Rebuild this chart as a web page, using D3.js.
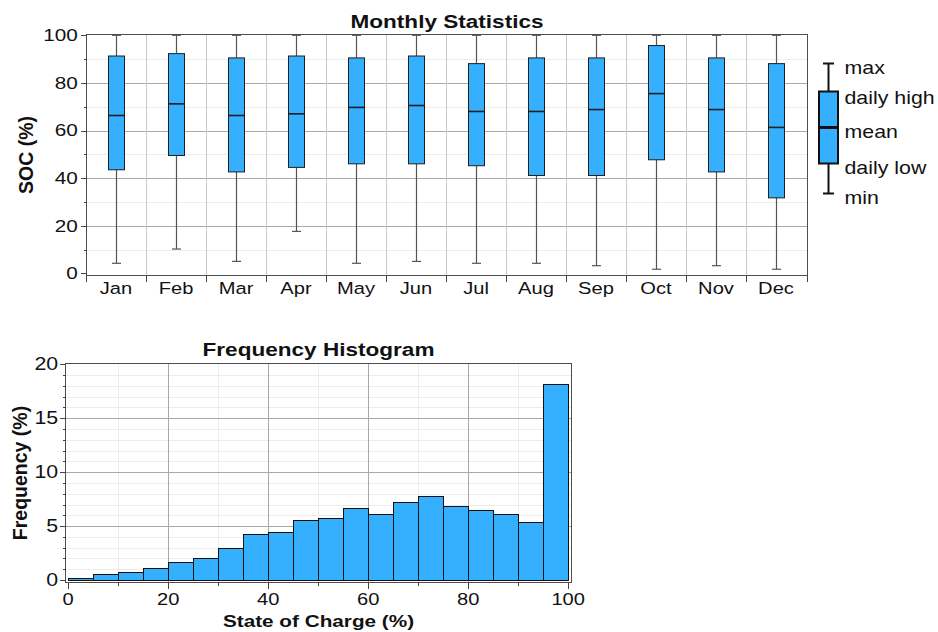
<!DOCTYPE html>
<!-- Monthly SOC box chart and SOC frequency histogram -->
<meta charset="utf-8">
<style>
 body { margin: 0; background: #fff; }
 text { font-family: "Liberation Sans", Arial, sans-serif; fill: #111; }
 .grid-major { stroke: #a8a8a8; stroke-width: 1; shape-rendering: crispEdges; }
 .grid-minor { stroke: #ececec; stroke-width: 1; shape-rendering: crispEdges; }
 .grid-band { stroke: #c9c9c9; stroke-width: 1; shape-rendering: crispEdges; }
 .frame { fill: none; stroke: #4d4d4d; stroke-width: 1; shape-rendering: crispEdges; }
 .tick line, .btick { stroke: #444; shape-rendering: crispEdges; }
 .box rect { fill: #35b0ff; stroke: #1e1e1e; stroke-width: 1; }
 .box .med { stroke: #1e1e1e; stroke-width: 1.6; }
 .box .whisk { stroke: #555; stroke-width: 1.2; }
 .bar { fill: #35b0ff; stroke: #111; stroke-width: 1; }
</style>

<svg width="938" height="632"></svg>

<script src="https://cdn.jsdelivr.net/npm/d3@7"></script>
<script>

 var months   = ["Jan", "Feb", "Mar", "Apr", "May", "Jun", "Jul", "Aug", "Sep", "Oct", "Nov", "Dec"];
 var socMax   = [100, 100, 100, 100, 100, 100, 100, 100, 100, 100, 100, 100];
 var socHigh  = [91.3, 92.3, 90.5, 91.3, 90.5, 91.3, 88.1, 90.5, 90.5, 95.7, 90.5, 88.1];
 var socMean  = [66.3, 71.2, 66.3, 67.0, 69.7, 70.5, 68.0, 68.0, 68.8, 75.5, 68.8, 61.3];
 var socLow   = [43.5, 49.5, 42.6, 44.5, 46.0, 46.0, 45.2, 41.1, 41.1, 47.7, 42.6, 31.7];
 var socMin   = [4.2, 10.2, 5.0, 17.6, 4.2, 5.0, 4.2, 4.2, 3.2, 1.7, 3.2, 1.7];

 var binStart = [0, 5, 10, 15, 20, 25, 30, 35, 40, 45, 50, 55, 60, 65, 70, 75, 80, 85, 90, 95];
 var binWidth = 5;
 var freqPct  = [0.2, 0.53, 0.71, 1.08, 1.64, 2.01, 2.94, 4.24, 4.42, 5.54, 5.72, 6.65, 6.09, 7.2, 7.76, 6.83, 6.46, 6.09, 5.35, 18.15];

 var socTicks      = [0, 20, 40, 60, 80, 100];
 var socMinorTicks = [10, 30, 50, 70, 90];
 var freqTicks     = [0, 5, 10, 15, 20];
 var freqMinor     = [1, 2, 3, 4, 6, 7, 8, 9, 11, 12, 13, 14, 16, 17, 18, 19];
 var chargeTicks   = [0, 20, 40, 60, 80, 100];
 var chargeMinor   = [10, 30, 50, 70, 90];

 var legendKeys = ["max", "daily high", "mean", "daily low", "min"];

 // text in the original is drawn wider than normal
 var SX = 1.22;

 var svg = d3.select("svg");

 function px(v) { return Math.round(v) + 0.5; }

 function label(g, x, y, s, size, anchor, bold) {
     return g.append("text")
             .attr("transform", "translate(" + x + "," + y + ") scale(" + SX + ",1)")
             .attr("text-anchor", anchor || "middle")
             .attr("font-size", size)
             .attr("font-weight", bold ? "bold" : null)
             .text(s);
 }

 function stretchTicks(g, size) {
     g.attr("font-size", size).attr("font-family", null);
     g.selectAll("text").attr("transform", "scale(" + SX + ",1)");
     g.select(".domain").remove();
 }

 // ---------- Monthly Statistics ----------
 var x = d3.scaleBand().domain(months).range([86, 806]);
 var y = d3.scaleLinear().domain([0, 100]).range([273.3, 35.3]);
 var boxChart = svg.append("g");

 var fx0 = 86.5, fx1 = 807.5, fy0 = px(y(100.7)), fy1 = px(y(-0.85));

 boxChart.selectAll(".hminor").data(socMinorTicks).enter().append("line")
    .attr("class", "grid-minor")
    .attr("x1", fx0).attr("x2", fx1)
    .attr("y1", function(d) { return px(y(d)); }).attr("y2", function(d) { return px(y(d)); });

 boxChart.selectAll(".hmajor").data(socTicks.slice(1, -1)).enter().append("line")
    .attr("class", "grid-major")
    .attr("x1", fx0).attr("x2", fx1)
    .attr("y1", function(d) { return px(y(d)); }).attr("y2", function(d) { return px(y(d)); });

 boxChart.selectAll(".vband").data(months.slice(1)).enter().append("line")
    .attr("class", "grid-band")
    .attr("x1", function(d) { return px(x(d)); }).attr("x2", function(d) { return px(x(d)); })
    .attr("y1", fy0).attr("y2", fy1);

 var rows = months.map(function(m, i) {
     return { m: m, max: socMax[i], high: socHigh[i], mean: socMean[i], low: socLow[i], min: socMin[i] };
 });

 var bw = 16, cw = 9;
 var box = boxChart.selectAll(".box").data(rows).enter().append("g")
              .attr("class", "box")
              .attr("transform", function(d) { return "translate(" + px(x(d.m) + x.bandwidth() / 2) + ",0)"; });

 box.append("line").attr("class", "whisk").attr("x1", 0).attr("x2", 0)
    .attr("y1", function(d) { return y(d.max); }).attr("y2", function(d) { return y(d.high); });
 box.append("line").attr("class", "whisk").attr("x1", 0).attr("x2", 0)
    .attr("y1", function(d) { return y(d.low); }).attr("y2", function(d) { return y(d.min); });
 box.append("line").attr("class", "whisk").attr("x1", -cw / 2).attr("x2", cw / 2)
    .attr("y1", function(d) { return y(d.max); }).attr("y2", function(d) { return y(d.max); });
 box.append("line").attr("class", "whisk").attr("x1", -cw / 2).attr("x2", cw / 2)
    .attr("y1", function(d) { return y(d.min); }).attr("y2", function(d) { return y(d.min); });
 box.append("rect").attr("x", -bw / 2).attr("width", bw)
    .attr("y", function(d) { return y(d.high); })
    .attr("height", function(d) { return y(d.low) - y(d.high); });
 box.append("line").attr("class", "med").attr("x1", -bw / 2).attr("x2", bw / 2)
    .attr("y1", function(d) { return y(d.mean); }).attr("y2", function(d) { return y(d.mean); });

 boxChart.append("rect").attr("class", "frame")
    .attr("x", fx0).attr("y", fy0).attr("width", fx1 - fx0).attr("height", fy1 - fy0);

 boxChart.append("g").attr("transform", "translate(" + fx0 + ",0)")
    .call(d3.axisLeft(y).tickValues(socTicks).tickSize(6).tickPadding(1.2))
    .call(function(g) { stretchTicks(g, 17); });
 boxChart.append("g").attr("transform", "translate(" + fx0 + ",0)")
    .call(d3.axisLeft(y).tickValues(socMinorTicks).tickSize(3).tickFormat(""))
    .call(function(g) { g.select(".domain").remove(); });

 boxChart.append("g").attr("transform", "translate(0," + fy1 + ")")
    .call(d3.axisBottom(x).tickSize(0).tickPadding(6.5))
    .call(function(g) { stretchTicks(g, 16.5); });
 boxChart.selectAll(".btick").data(months.concat(["end"])).enter().append("line")
    .attr("class", "btick")
    .attr("x1", function(d) { return d == "end" ? fx1 : px(x(d)); })
    .attr("x2", function(d) { return d == "end" ? fx1 : px(x(d)); })
    .attr("y1", fy1).attr("y2", fy1 + 6);

 label(boxChart, (fx0 + fx1) / 2, 27.5, "Monthly Statistics", 18.5, "middle", true);
 boxChart.append("text").attr("transform", "translate(33," + (fy0 + fy1) / 2 + ") rotate(-90)")
    .attr("text-anchor", "middle").attr("font-size", 19.5).attr("font-weight", "bold")
    .text("SOC (%)");

 // legend
 var lg = svg.append("g").attr("transform", "translate(828.5,0)");
 var ly = { max: 63.5, high: 91.5, mean: 127.5, low: 163.5, min: 193.5 };
 lg.append("line").attr("x1", 0).attr("x2", 0).attr("y1", ly.max).attr("y2", ly.min)
   .attr("stroke", "#111").attr("stroke-width", 2);
 lg.append("line").attr("x1", -5.5).attr("x2", 5.5).attr("y1", ly.max).attr("y2", ly.max)
   .attr("stroke", "#111").attr("stroke-width", 2);
 lg.append("line").attr("x1", -5.5).attr("x2", 5.5).attr("y1", ly.min).attr("y2", ly.min)
   .attr("stroke", "#111").attr("stroke-width", 2);
 lg.append("rect").attr("x", -9.5).attr("y", ly.high).attr("width", 19).attr("height", ly.low - ly.high)
   .attr("fill", "#35b0ff").attr("stroke", "#111").attr("stroke-width", 2);
 lg.append("line").attr("x1", -10.5).attr("x2", 10.5).attr("y1", ly.mean).attr("y2", ly.mean)
   .attr("stroke", "#111").attr("stroke-width", 3);
 var lyPos = [ly.max + 10, ly.high + 12, ly.mean + 10, ly.low + 10.5, ly.min + 10];
 legendKeys.forEach(function(k, i) { label(lg, 16, lyPos[i], k, 17.5, "start"); });

 // ---------- Frequency Histogram ----------
 var hx = d3.scaleLinear().domain([0, 100]).range([67.7, 567.7]);
 var hy = d3.scaleLinear().domain([0, 20]).range([580, 364.3]);
 var histChart = svg.append("g");

 var gx0 = px(hx(-0.45)), gx1 = px(hx(100.6)), gy0 = px(hy(20.15)), gy1 = px(hy(-0.15));

 histChart.selectAll(".hminor").data(freqMinor).enter().append("line")
    .attr("class", "grid-minor")
    .attr("x1", gx0).attr("x2", gx1)
    .attr("y1", function(d) { return px(hy(d)); }).attr("y2", function(d) { return px(hy(d)); });
 histChart.selectAll(".vminor").data(chargeMinor).enter().append("line")
    .attr("class", "grid-minor")
    .attr("x1", function(d) { return px(hx(d)); }).attr("x2", function(d) { return px(hx(d)); })
    .attr("y1", gy0).attr("y2", gy1);
 histChart.selectAll(".hmajor").data(freqTicks.slice(1, -1)).enter().append("line")
    .attr("class", "grid-major")
    .attr("x1", gx0).attr("x2", gx1)
    .attr("y1", function(d) { return px(hy(d)); }).attr("y2", function(d) { return px(hy(d)); });
 histChart.selectAll(".vmajor").data(chargeTicks.slice(1, -1)).enter().append("line")
    .attr("class", "grid-major")
    .attr("x1", function(d) { return px(hx(d)); }).attr("x2", function(d) { return px(hx(d)); })
    .attr("y1", gy0).attr("y2", gy1);

 histChart.selectAll(".bar").data(binStart).enter().append("rect")
    .attr("class", "bar")
    .attr("x", function(d) { return px(hx(d)); })
    .attr("width", function(d) { return px(hx(d + binWidth)) - px(hx(d)); })
    .attr("y", function(d, i) { return px(hy(freqPct[i])); })
    .attr("height", function(d, i) { return px(hy(0)) - px(hy(freqPct[i])); });

 histChart.append("rect").attr("class", "frame")
    .attr("x", gx0).attr("y", gy0).attr("width", gx1 - gx0).attr("height", gy1 - gy0);

 histChart.append("g").attr("transform", "translate(" + gx0 + ",0)")
    .call(d3.axisLeft(hy).tickValues(freqTicks).tickSize(6).tickPadding(0))
    .call(function(g) { stretchTicks(g, 17.5); });
 histChart.append("g").attr("transform", "translate(" + gx0 + ",0)")
    .call(d3.axisLeft(hy).tickValues(freqMinor).tickSize(3).tickFormat(""))
    .call(function(g) { g.select(".domain").remove(); });
 histChart.append("g").attr("transform", "translate(0," + gy1 + ")")
    .call(d3.axisBottom(hx).tickValues(chargeTicks).tickSize(6).tickPadding(5))
    .call(function(g) { stretchTicks(g, 16.5); });
 histChart.append("g").attr("transform", "translate(0," + gy1 + ")")
    .call(d3.axisBottom(hx).tickValues(chargeMinor).tickSize(3).tickFormat(""))
    .call(function(g) { g.select(".domain").remove(); });

 label(histChart, (gx0 + gx1) / 2, 355.5, "Frequency Histogram", 18.5, "middle", true);
 label(histChart, (gx0 + gx1) / 2, 627.3, "State of Charge (%)", 17, "middle", true);
 histChart.append("text").attr("transform", "translate(27," + (gy0 + gy1) / 2 + ") rotate(-90)")
    .attr("text-anchor", "middle").attr("font-size", 19.5).attr("font-weight", "bold")
    .text("Frequency (%)");

</script>
